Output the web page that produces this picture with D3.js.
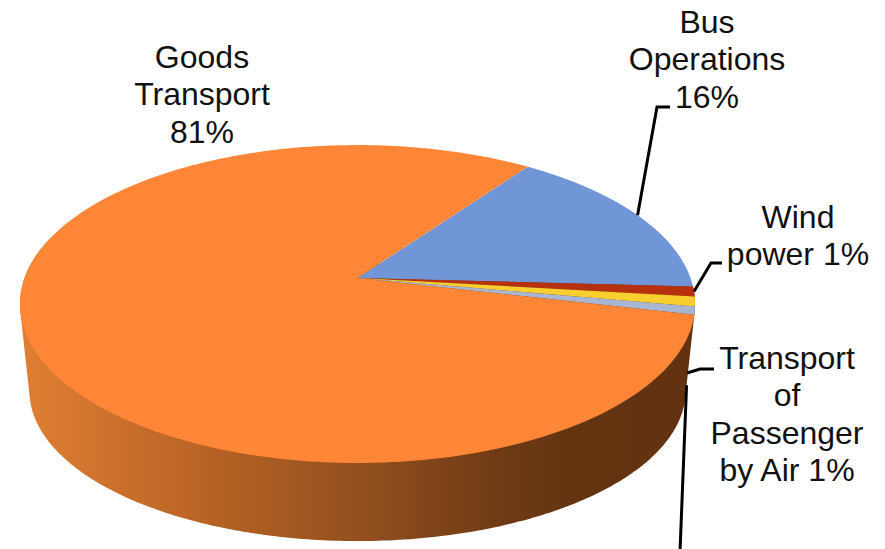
<!DOCTYPE html>
<html>
<head>
<meta charset="utf-8">
<script src="https://cdn.jsdelivr.net/npm/d3@7/dist/d3.min.js"></script>
<style>
html,body{margin:0;padding:0;background:#fff}
svg{display:block}
text{font-family:"Liberation Sans",Arial,sans-serif;font-size:32px;fill:#111;text-anchor:middle}
</style>
</head>
<body>
<script>
// Share of activity by sector, in percent
const categories = ["Goods Transport", "Bus Operations", "Wind power", "Transport of Passenger by Air", "Other"];
const values = [81, 16, 1, 1, 0.8];
const colors = ["#FF8637", "#7096D8", "#B8310F", "#F9CE2F", "#A9B6D3"];
const labelLines = [
  ["Goods", "Transport", "81%"],
  ["Bus", "Operations", "16%"],
  ["Wind", "power 1%"],
  ["Transport", "of", "Passenger", "by Air 1%"],
  []
];
const labelAnchors = [[202, 68], [707, 33], [798, 228], [787, 369]];
const lineStep = 37.3;

const width = 885, height = 549;
const svg = d3.select("body").append("svg").attr("width", width).attr("height", height);

// Perspective disc: a circle seen through a projective map, so the hub sits above the ellipse centre
const tilt = -0.1635;
const topFace = {cx: 357.5, cy: 278, kx: 333, ky: 154.7};
const baseFace = {cx: 357.5, cy: 366.5, kx: 323.6, ky: 146};
const project = (face, a) => {
  const u = Math.sin(a), v = -Math.cos(a), w = 1 + tilt * v;
  return [face.cx + face.kx * u / w, face.cy + face.ky * v / w];
};
const rad = d => d * Math.PI / 180;

const pie = d3.pie().sort(null).startAngle(rad(35.4)).endAngle(rad(35.4 + 360));
// Slices are laid out clockwise starting from the bus slice; goods closes the circle
const order = [1, 2, 3, 4, 0];
const arcs = pie(order.map(i => values[i])).map((d, k) => ({...d, idx: order[k]}));
const byIdx = i => arcs.find(a => a.idx === i);
const mid = a => (a.startAngle + a.endAngle) / 2;

const sample = (start, end) => d3.range(0, 241).map(i => start + (end - start) * i / 240);
const line = d3.line();

// Side wall, shaded from the lit left to the dark right
const defs = svg.append("defs");
const grad = defs.append("linearGradient").attr("id", "wall")
  .attr("gradientUnits", "userSpaceOnUse")
  .attr("x1", 25).attr("x2", 690).attr("y1", 0).attr("y2", 0);
[[0, "#DF7E33"], [0.25, "#BC6526"], [0.5, "#94501E"], [0.72, "#6E3A14"], [0.82, "#643411"], [1, "#633311"]]
  .forEach(s => grad.append("stop").attr("offset", s[0]).attr("stop-color", s[1]));

// The wall outline is the hull of both rims, which gives the straight silhouette at each side
const wallAngles = sample(byIdx(2).startAngle, rad(285));
const wallHull = d3.polygonHull(
  wallAngles.map(a => project(topFace, a)).concat(wallAngles.map(a => project(baseFace, a)))
);
svg.append("path").attr("d", line(wallHull) + "Z").attr("fill", "url(#wall)");

// Top face slices
arcs.forEach(a => {
  const pts = sample(a.startAngle, a.endAngle).map(t => project(topFace, t));
  pts.unshift([topFace.cx, topFace.cy]);
  svg.append("path").attr("d", line(pts) + "Z").attr("fill", colors[a.idx]);
});

// Leader lines start on the slice they annotate
const onWall = (a, f) => {
  const t = project(topFace, a), b = project(baseFace, a);
  return [t[0] + (b[0] - t[0]) * f, t[1] + (b[1] - t[1]) * f];
};
const leaders = [
  [project(topFace, mid(byIdx(1))), [657, 107], [670, 107]],
  [project(topFace, mid(byIdx(2))), [711, 263], [722, 263]],
  [onWall(mid(byIdx(3)), 0.82), [700, 369], [714, 369]],
  [onWall(mid(byIdx(4)), 0.86), [680, 552]]
];
svg.append("g").selectAll("path").data(leaders).join("path")
  .attr("d", d => line(d)).attr("fill", "none").attr("stroke", "#000").attr("stroke-width", 3);

// Category labels
labelAnchors.forEach((p, i) => {
  labelLines[i].forEach((txt, j) => {
    svg.append("text").attr("x", p[0]).attr("y", p[1] + j * lineStep).text(txt);
  });
});
</script>
</body>
</html>
